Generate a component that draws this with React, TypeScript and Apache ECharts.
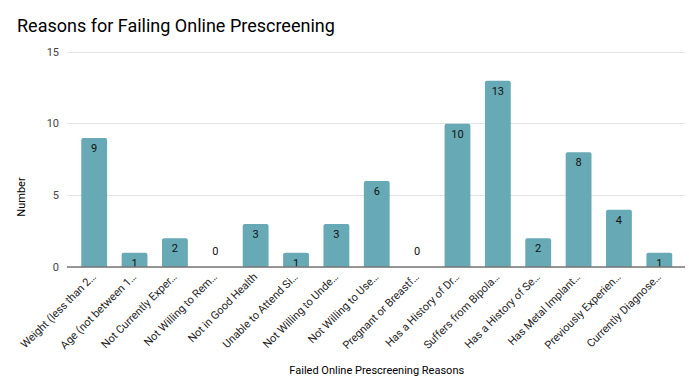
import React, { useEffect, useRef } from "react";
import * as echarts from "echarts";

const categories = [
  "Weight (less than 2…",
  "Age (not between 1…",
  "Not Currently Exper…",
  "Not Willing to Rem…",
  "Not in Good Health",
  "Unable to Attend Si…",
  "Not Willing to Unde…",
  "Not Willing to Use…",
  "Pregnant or Breastf…",
  "Has a History of Dr…",
  "Suffers from Bipola…",
  "Has a History of Se…",
  "Has Metal Implant…",
  "Previously Experien…",
  "Currently Diagnose…",
];
const values = [9, 1, 2, 0, 3, 1, 3, 6, 0, 10, 13, 2, 8, 4, 1];
const yTicks = [0, 5, 10, 15];

const FONT = "Roboto, 'Noto Sans', sans-serif";

export default function App() {
  const ref = useRef<HTMLDivElement>(null);
  useEffect(() => {
    if (!ref.current) return;
    const chart = echarts.init(ref.current, undefined, { renderer: "svg" });
    chart.setOption({
      animation: false,
      backgroundColor: "#ffffff",
      title: {
        text: "Reasons for Failing Online Prescreening",
        left: 12,
        top: 11,
        textStyle: { fontFamily: FONT, fontSize: 18, fontWeight: "normal", color: "#000" },
      },
      grid: [
        { left: 74, right: 18.5, top: 52, bottom: 121, containLabel: false },
        { left: 67, right: 13, top: 52, bottom: 121, containLabel: false },
      ],
      xAxis: [
        {
          type: "category",
          gridIndex: 0,
          data: categories,
          axisLine: { show: false },
          axisTick: { show: false },
          axisLabel: {
            rotate: 45,
            interval: 0,
            margin: 8,
            fontFamily: FONT,
            fontSize: 11,
            color: "#222",
          },
          name: "Failed Online Prescreening Reasons",
          nameLocation: "middle",
          nameGap: 98,
          nameTextStyle: { fontFamily: FONT, fontSize: 11, color: "#000" },
        },
        {
          type: "value",
          gridIndex: 1,
          show: false,
          min: 0,
          max: 1,
        },
      ],
      yAxis: [
        {
          type: "value",
          gridIndex: 0,
          min: yTicks[0],
          max: yTicks[yTicks.length - 1],
          interval: 5,
          show: false,
        },
        {
          type: "value",
          gridIndex: 1,
          min: yTicks[0],
          max: yTicks[yTicks.length - 1],
          interval: 5,
          axisLine: { show: false },
          axisTick: { show: false },
          splitLine: { lineStyle: { color: "#e3e3e3", width: 1 } },
          axisLabel: { margin: 8, fontFamily: FONT, fontSize: 11, color: "#444" },
        },
      ],
      graphic: [
        {
          type: "text",
          x: 21,
          y: 197,
          rotation: Math.PI / 2,
          style: {
            text: "Number",
            fontFamily: FONT,
            fontSize: 11,
            fill: "#000",
            align: "center",
            verticalAlign: "middle",
          },
        },
        {
          type: "line",
          shape: { x1: 67, y1: 267, x2: 685, y2: 267 },
          style: { stroke: "#777", lineWidth: 1.5 },
          z: 10,
        },
      ],
      series: [
        {
          type: "bar",
          xAxisIndex: 0,
          yAxisIndex: 0,
          barWidth: "64%",
          itemStyle: { color: "#67a9b4", borderRadius: [2, 2, 0, 0] },
          data: values.map((v) =>
            v === 0
              ? { value: v, label: { position: "top", distance: 10 } }
              : { value: v }
          ),
          label: {
            show: true,
            position: "insideTop",
            distance: 5,
            fontFamily: FONT,
            fontSize: 11,
            color: "#111",
          },
        },
      ],
    });
    return () => chart.dispose();
  }, []);
  return <div ref={ref} style={{ width: 698, height: 388, margin: -8 }} />;
}
